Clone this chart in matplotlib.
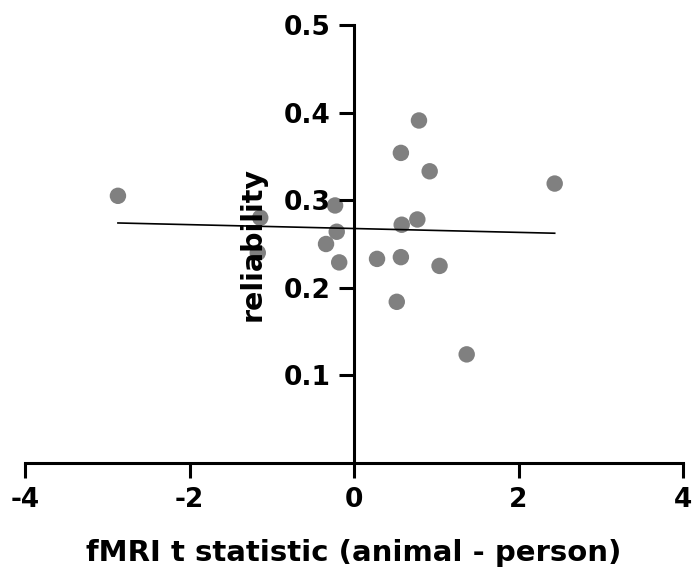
import numpy as np
import matplotlib
matplotlib.use("Agg")
import matplotlib.pyplot as plt

# data
t_stat = [-2.87, 0.79, 0.57, 0.92, 2.44, -0.23, -1.14, -0.21, 0.58, 0.77,
          -0.34, -1.17, -0.18, 0.28, 0.57, 1.04, 0.52, 1.37]
reliability = [0.305, 0.391, 0.354, 0.333, 0.319, 0.294, 0.280, 0.264, 0.272, 0.278,
               0.250, 0.240, 0.229, 0.233, 0.235, 0.225, 0.184, 0.124]
x_ticks = [-4, -2, 0, 2, 4]
y_ticks = [0.1, 0.2, 0.3, 0.4, 0.5]
y_tick_labels = ["0.1", "0.2", "0.3", "0.4", "0.5"]

plt.rcParams['font.family'] = ['DejaVu Sans']
plt.rcParams['font.weight'] = 'bold'

fig = plt.figure(figsize=(6.93, 5.76), dpi=100)
ax = fig.add_axes([25/693, 113/576, 658/693, 438/576])

x = np.array(t_stat)
y = np.array(reliability)
ax.scatter(x, y, s=140, color='#808080', edgecolors='none', zorder=1)

slope, intercept = np.polyfit(x, y, 1)
xs = np.array([x.min(), x.max()])
ax.plot(xs, slope * xs + intercept, color='black', lw=1.2, zorder=2)

ax.set_xlim(-4, 4)
ax.set_ylim(0, 0.5)
ax.spines['left'].set_position(('data', 0))
ax.spines['bottom'].set_position(('data', 0))
ax.spines['right'].set_visible(False)
ax.spines['top'].set_visible(False)
for s in ('left', 'bottom'):
    ax.spines[s].set_linewidth(2.2)
    ax.spines[s].set_capstyle('projecting')

ax.set_xticks(x_ticks)
ax.set_xticklabels([str(v) for v in x_ticks])
ax.set_yticks(y_ticks)
ax.set_yticklabels(y_tick_labels)
ax.tick_params(axis='both', direction='out', length=11, width=2.2,
               labelsize=19, pad=6)

ax.set_xlabel('fMRI t statistic (animal - person)', fontsize=21,
              fontweight='bold', labelpad=19)
ax.set_ylabel('reliability', fontsize=20.5, fontweight='bold')
ax.yaxis.set_label_coords(0.3665, 0.5)

fig.savefig('out.png', dpi=100)
